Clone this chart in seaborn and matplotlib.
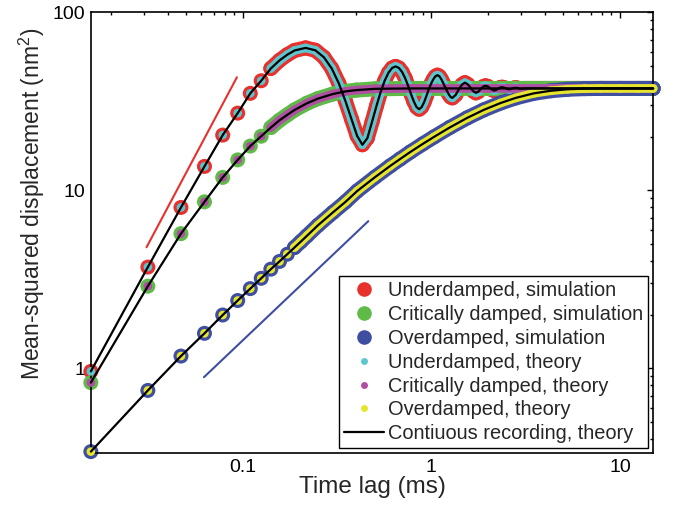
import matplotlib
matplotlib.use("Agg")
import matplotlib.pyplot as plt
from matplotlib.lines import Line2D
from matplotlib.ticker import LogLocator, NullFormatter
import seaborn as sns

# Time lags (ms) and mean-squared displacement (nm^2)
t_under = [0.0156, 0.0313, 0.0469, 0.0625, 0.0781, 0.0938, 0.1094, 0.125, 0.1406, 0.1563,
           0.1719, 0.1882, 0.2151, 0.2420, 0.2689, 0.2958, 0.3227, 0.3496, 0.3765, 0.4034,
           0.4302, 0.4571, 0.4840, 0.5109, 0.5378, 0.5647, 0.5916, 0.6185, 0.6454, 0.6723,
           0.6992, 0.7261, 0.7530, 0.7799, 0.8068, 0.8337, 0.8606, 0.8875, 0.9144, 0.9413,
           0.9682, 0.9951, 1.022, 1.049, 1.076, 1.103, 1.130, 1.156, 1.183, 1.210,
           1.237, 1.264, 1.291, 1.345, 1.399, 1.453, 1.506, 1.560, 1.614, 1.668,
           1.722, 1.775, 1.829, 1.883, 1.937, 1.991, 2.044, 2.098, 2.152, 2.206,
           2.260, 2.313, 2.367, 2.421, 2.475, 2.529, 2.582, 2.636, 2.690, 2.744,
           2.798, 2.851, 2.905, 2.959, 3.013, 3.067, 3.120, 3.5, 4.5, 6.0,
           8.0, 10.0, 12.5, 15.0]
msd_under = [0.96, 3.7, 8.0, 13.6, 20.4, 27.1, 35.0, 41.2, 48.3, 53.6,
             57.7, 61.0, 63.0, 61.1, 55.8, 48.3, 39.8, 31.7, 25.1, 20.2,
             18.0, 19.6, 24.2, 29.7, 35.6, 41.2, 45.7, 48.6, 49.6, 48.6,
             46.1, 42.5, 38.5, 34.6, 31.5, 29.3, 28.5, 29.3, 31.2, 33.9,
             36.9, 39.6, 41.9, 43.6, 44.3, 43.6, 41.9, 39.9, 37.9, 36.0,
             34.5, 33.4, 33.0, 34.3, 36.9, 39.2, 40.2, 39.3, 37.6, 36.0,
             35.2, 35.8, 37.1, 38.2, 38.6, 38.3, 37.4, 36.7, 36.3, 36.6,
             37.2, 37.7, 37.9, 37.7, 37.4, 37.0, 36.9, 37.0, 37.3, 37.5,
             37.6, 37.5, 37.3, 37.1, 37.1, 37.2, 37.3, 37.3, 37.3, 37.3,
             37.3, 37.3, 37.3, 37.3]

t_crit = [0.0156, 0.0313, 0.0469, 0.0625, 0.0781, 0.0938, 0.1094, 0.125, 0.1406, 0.1563,
          0.1719, 0.1875, 0.2188, 0.25, 0.3, 0.35, 0.4, 0.5, 0.6, 0.8,
          1.0, 2.0, 4.0, 8.0, 15.0]
msd_crit = [0.83, 2.89, 5.7, 8.6, 11.8, 14.8, 17.7, 20.1, 22.5, 24.7,
            26.5, 28.2, 30.8, 32.7, 34.7, 35.9, 36.5, 37.1, 37.2, 37.3,
            37.3, 37.3, 37.3, 37.3, 37.3]

t_over = [0.0156, 0.0313, 0.0469, 0.0625, 0.0781, 0.0938, 0.1094, 0.125, 0.1406, 0.1563,
          0.1719, 0.1875, 0.2031, 0.2188, 0.25, 0.3, 0.35, 0.404, 0.5, 0.605,
          0.684, 0.773, 0.9, 1.03, 1.25, 1.55, 1.9, 2.33, 2.8, 3.49,
          4.3, 5.28, 6.5, 7.9, 10.0, 12.5, 15.0]
msd_over = [0.34, 0.75, 1.17, 1.57, 1.99, 2.40, 2.80, 3.20, 3.60, 3.98,
            4.37, 4.76, 5.15, 5.55, 6.35, 7.5, 8.6, 9.9, 11.8, 13.7,
            15.0, 16.4, 18.2, 19.9, 22.5, 25.5, 28.3, 30.9, 33.0, 35.0,
            36.2, 36.9, 37.2, 37.3, 37.3, 37.3, 37.3]

# guide lines: slope 2 (ballistic) and slope 1 (diffusive)
t_slope2 = [0.0308, 0.0929]
msd_slope2 = [4.78, 43.1]
t_slope1 = [0.0621, 0.4624]
msd_slope1 = [0.89, 6.70]

labels = ["Underdamped, simulation", "Critically damped, simulation",
          "Overdamped, simulation", "Underdamped, theory",
          "Critically damped, theory", "Overdamped, theory",
          "Contiuous recording, theory"]

red, green, blue = "#e8302d", "#5fbb47", "#3f4ea1"
cyan, magenta, yellow = "#5cc6cf", "#b04ea3", "#e6e52e"

sns.set_style("white")
plt.rcParams["font.family"] = ["Liberation Sans", "DejaVu Sans"]
plt.rcParams["mathtext.fontset"] = "custom"
plt.rcParams["mathtext.rm"] = "Liberation Sans"

fig = plt.figure(figsize=(6.74, 5.08), dpi=100)
ax = fig.add_axes([0.135, 0.108, 0.834, 0.868])
ax.set_xscale("log")
ax.set_yscale("log")

SIM = 10.8   # marker diameter (pt) of simulation circles
THEO = 6.2   # marker diameter (pt) of theory dots


def draw(t, y, color, size, band_from, z):
    # individual circles, plus a band where the samples overlap densely
    sns.scatterplot(x=t, y=y, s=size ** 2, color=color, edgecolor="none",
                    linewidth=0, ax=ax, zorder=z, legend=False, clip_on=False)
    sns.lineplot(x=t[band_from:], y=y[band_from:], color=color, lw=size,
                 sort=False, estimator=None, ax=ax, zorder=z, clip_on=False,
                 solid_capstyle="round", solid_joinstyle="round")


series = [(t_under, msd_under, red, cyan, 8),
          (t_crit, msd_crit, green, magenta, 8),
          (t_over, msd_over, blue, yellow, 11)]

for t, y, c_sim, c_theo, b in series:
    draw(t, y, c_sim, SIM, b, 2)
for t, y, c_sim, c_theo, b in series:
    draw(t, y, c_theo, THEO, b, 3)
for t, y, c_sim, c_theo, b in series:
    sns.lineplot(x=t, y=y, color="black", lw=1.6, sort=False, estimator=None,
                 ax=ax, zorder=4, clip_on=False)

sns.lineplot(x=t_slope2, y=msd_slope2, color=red, lw=1.5, ax=ax, zorder=1)
sns.lineplot(x=t_slope1, y=msd_slope1, color=blue, lw=1.5, ax=ax, zorder=1)

ax.set_xlim(0.015625, 15.0)
ax.set_ylim(1 / 3, 100)
ax.set_xticks([0.1, 1, 10], ["0.1", "1", "10"])
ax.set_yticks([1, 10, 100], ["1", "10", "100"])
ax.xaxis.set_minor_locator(LogLocator(base=10, subs=range(2, 10)))
ax.yaxis.set_minor_locator(LogLocator(base=10, subs=range(2, 10)))
ax.xaxis.set_minor_formatter(NullFormatter())
ax.yaxis.set_minor_formatter(NullFormatter())
ax.tick_params(which="both", direction="in", top=True, right=True,
               labelsize=14, colors="black", width=1)
ax.tick_params(which="major", length=4, pad=4)
ax.tick_params(which="minor", length=2.2)
for sp in ax.spines.values():
    sp.set_linewidth(1.2)
    sp.set_color("black")

ax.set_xlabel("Time lag (ms)", fontsize=17.5, labelpad=0)
ax.set_ylabel("Mean-squared displacement (nm$^2$)", fontsize=16.5)
ax.yaxis.set_label_coords(-0.078, 0.565)

handles = [Line2D([], [], ls="none", marker="o", ms=10.5, color=c, mec="none")
           for c in (red, green, blue)]
handles += [Line2D([], [], ls="none", marker="o", ms=5, color=c, mec="none")
            for c in (cyan, magenta, yellow)]
handles.append(Line2D([], [], color="black", lw=1.6))
leg = ax.legend(handles, labels, loc="lower right", fontsize=14.4,
                frameon=True, fancybox=False, framealpha=1, edgecolor="black",
                handlelength=2.0, handletextpad=0.2, labelspacing=0.24,
                borderpad=0.25, borderaxespad=0.25)
leg.get_frame().set_linewidth(1.0)
leg.set_zorder(5)

fig.savefig("out.png", dpi=100)
